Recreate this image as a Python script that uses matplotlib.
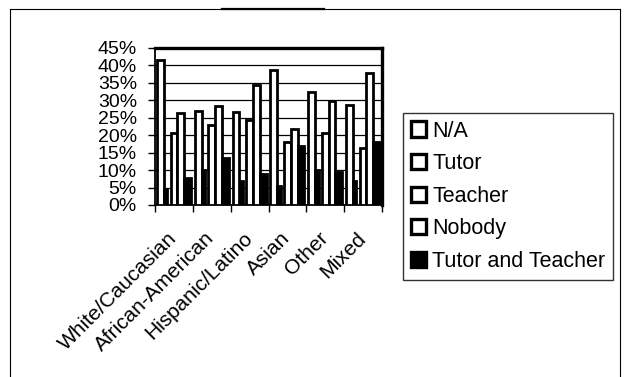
import numpy as np
import matplotlib.pyplot as plt
from matplotlib.patches import Patch
from matplotlib.lines import Line2D

plt.rcParams['font.family'] = ['Liberation Sans', 'DejaVu Sans']

groups = ["White/Caucasian", "African-American", "Hispanic/Latino", "Asian", "Other", "Mixed"]
series = ["N/A", "Tutor", "Teacher", "Nobody", "Tutor and Teacher"]

# percent of respondents per group
na = [41.5, 26.9, 26.7, 38.7, 32.5, 28.8]
tutor = [4.5, 10.0, 7.0, 5.5, 10.0, 7.0]
teacher = [20.7, 23.0, 24.3, 18.1, 20.6, 16.2]
nobody = [26.5, 28.4, 34.3, 21.9, 29.7, 37.7]
both = [7.8, 13.6, 8.8, 16.9, 9.4, 18.0]
yticks = [0, 5, 10, 15, 20, 25, 30, 35, 40, 45]

W, H = 626, 377
fig = plt.figure(figsize=(W / 100, H / 100), dpi=100)
ax = fig.add_axes([155 / W, 1 - 205 / H, 227 / W, 157 / H])

x = np.arange(len(groups))
step = 0.18
lw = 2.0
ax.bar(x + 0.14, na, step, color='white', edgecolor='black', linewidth=lw, zorder=3)
ax.bar(x + 0.28, tutor, 0.09, color='black', edgecolor='black', linewidth=lw, zorder=3)
ax.bar(x + 0.14 + 2 * step, teacher, step, color='white', edgecolor='black', linewidth=lw, zorder=3)
ax.bar(x + 0.14 + 3 * step, nobody, step, color='white', edgecolor='black', linewidth=lw, zorder=3)
ax.bar(x + 0.14 + 4 * step, both, step, color='black', edgecolor='black', linewidth=lw, zorder=3)

ax.set_xlim(0, len(groups))
ax.set_ylim(0, 45)
ax.set_yticks(yticks)
ax.set_yticklabels([f"{v}%" for v in yticks], fontsize=14)
ax.tick_params(axis='y', direction='out', length=5, width=1, pad=8)
ax.yaxis.grid(True, color='black', linewidth=0.9, zorder=0)
ax.set_axisbelow(True)

# category labels sit a little left of each group's centre, slanted
ax.set_xticks(x + 0.32)
ax.set_xticklabels(groups, fontsize=15, rotation=45, ha='right', rotation_mode='anchor')
ax.set_xticks(np.arange(len(groups) + 1), minor=True)
ax.tick_params(axis='x', which='major', length=0, pad=17)
ax.tick_params(axis='x', which='minor', length=5, width=1, direction='out')

for side in ['left', 'bottom']:
    ax.spines[side].set_linewidth(1.3)
for side in ['top', 'right']:
    ax.spines[side].set_linewidth(2.4)

handles = [Patch(facecolor='white', edgecolor='black', linewidth=2.4) for _ in series[:-1]]
handles.append(Patch(facecolor='black', edgecolor='black', linewidth=2.4))
leg = fig.legend(handles, series, loc='upper left', bbox_to_anchor=(403 / W, 1 - 113 / H),
                 fontsize=15.5, frameon=True, fancybox=False, edgecolor='black',
                 handlelength=0.7, handleheight=0.7, handletextpad=0.3,
                 labelspacing=0.54, borderpad=0.35, borderaxespad=0)
leg.get_frame().set_linewidth(1.0)

# outer chart frame
fig.add_artist(Line2D([10 / W, 10 / W], [0, 1 - 9 / H], color='black', linewidth=0.8))
fig.add_artist(Line2D([620 / W, 620 / W], [0, 1 - 9 / H], color='black', linewidth=0.8))
fig.add_artist(Line2D([10 / W, 620 / W], [1 - 9 / H, 1 - 9 / H], color='black', linewidth=0.8))
fig.add_artist(Line2D([222 / W, 324 / W], [1 - 9 / H, 1 - 9 / H], color='black', linewidth=1.6))

fig.savefig('out.png', dpi=100)
